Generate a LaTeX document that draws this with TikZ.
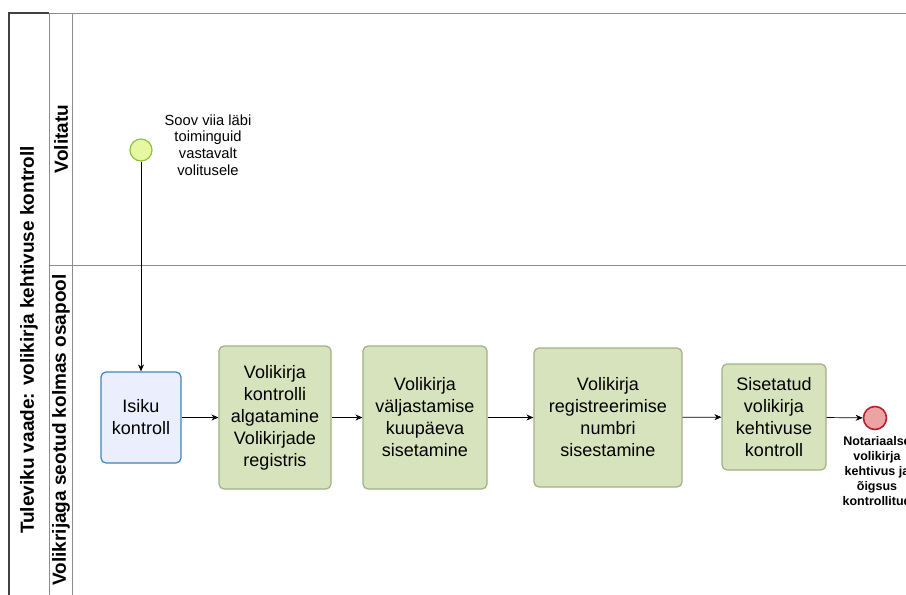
\documentclass[tikz,border=0pt]{standalone}
\usepackage{fontspec}
\setmainfont{Liberation Sans}
\usetikzlibrary{arrows.meta}
\definecolor{taskfill}{HTML}{D7E3BC}
\definecolor{taskdraw}{HTML}{A2B184}
\definecolor{userfill}{HTML}{EAEEFD}
\definecolor{userdraw}{HTML}{3A86BE}
\definecolor{startfill}{HTML}{E6F7A0}
\definecolor{startdraw}{HTML}{8CC43C}
\definecolor{endfill}{HTML}{EBA3A3}
\definecolor{enddraw}{HTML}{B3222A}
\definecolor{laneline}{HTML}{8C8C8C}
\tikzset{
  taskbox/.style={draw=taskdraw, fill=taskfill, line width=1.2pt, rounded corners=5pt,
    align=center, inner sep=0pt, font=\fontsize{18}{22}\selectfont},
  userbox/.style={draw=userdraw, fill=userfill, line width=1.2pt, rounded corners=5pt,
    align=center, inner sep=0pt, font=\fontsize{18}{22}\selectfont},
  flow/.style={draw=black, line width=0.7pt, -{Stealth[length=7pt,width=6pt]}},
  header/.style={font=\fontsize{19}{23}\selectfont\bfseries, rotate=90},
  lanerule/.style={draw=laneline, line width=1pt}
}
\begin{document}
\begin{tikzpicture}[x=1pt,y=-1pt]
\useasboundingbox (0,0) rectangle (906,595);
\fill[white] (0,0) rectangle (906,595);
\begin{scope}
\clip (0,0) rectangle (906,595);

% pool and lane frames
\draw[lanerule] (49,13) -- (906,13);
\draw[lanerule] (49,265) -- (906,265);
\draw[lanerule] (49,13) -- (49,595);
\draw[lanerule] (72,13) -- (72,595);
\draw[line width=1.3pt, draw=black!75] (9,595) -- (9,13) -- (49,13);

% headers
\node[header] (pool) at (29,340) {Tuleviku vaade: volikirja kehtivuse kontroll};
\node[header] (lane1) at (61,139) {Volitatu};
\node[header] (lane2) at (61,430) {Volikrijaga seotud kolmas osapool};

% events
\node[circle, draw=startdraw, fill=startfill, line width=1.2pt, minimum size=22pt, inner sep=0pt] (start) at (141,150) {};
\node[align=center, font=\fontsize{14.7}{16.7}\selectfont] (startlbl) at (208,145)
  {Soov viia läbi\\toiminguid\\vastavalt\\volitusele};

\node[circle, draw=enddraw, fill=endfill, line width=1.6pt, minimum size=23pt, inner sep=0pt] (end) at (875,418) {};
\node[align=center, font=\fontsize{12.5}{15}\selectfont\bfseries, anchor=north] (endlbl) at (877,433)
  {Notariaalse\\volikirja\\kehtivus ja\\õigsus\\kontrollitud};

% tasks
\node[userbox, minimum width=80pt, minimum height=91pt] (t1) at (141,417.5) {Isiku\\kontroll};
\node[taskbox, minimum width=112pt, minimum height=143pt] (t2) at (275,417.5) {Volikirja\\kontrolli\\algatamine\\Volikirjade\\registris};
\node[taskbox, minimum width=124pt, minimum height=143pt] (t3) at (425,417.5) {Volikirja\\väljastamise\\kuupäeva\\sisetamine};
\node[taskbox, minimum width=148pt, minimum height=139pt] (t4) at (608,417.5) {Volikirja\\registreerimise\\numbri\\sisestamine};
\node[taskbox, minimum width=104pt, minimum height=106pt] (t5) at (774,417) {Sisetatud\\volikirja\\kehtivuse\\kontroll};

% sequence flows
\draw[flow] (start) -- (t1);
\draw[flow] (t1) -- (t2);
\draw[flow] (t2) -- (t3);
\draw[flow] (t3) -- (t4);
\draw[flow] (t4) -- (t5);
\draw[flow] (t5) -- (end);
\end{scope}
\end{tikzpicture}
\end{document}
